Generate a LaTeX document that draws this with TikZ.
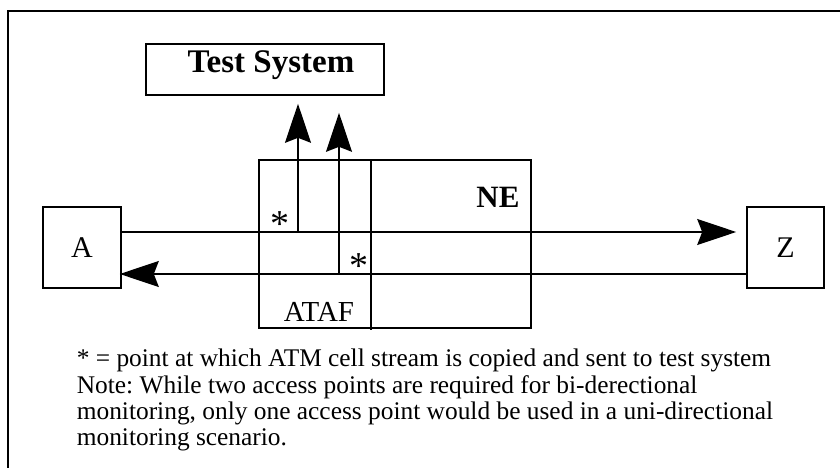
\documentclass[tikz,border=0pt]{standalone}
\usepackage{fontspec}
\setmainfont{Liberation Serif}
\frenchspacing
\usetikzlibrary{arrows.meta}
\begin{document}
\begin{tikzpicture}[x=1pt,y=-1pt,
  line width=1.6pt,
  box/.style={draw,line width=1.6pt},
  flow/.style={line width=1.6pt,-{Stealth[length=39pt,width=26pt,inset=5pt]}},
  lbl/.style={inner sep=0pt,font=\fontsize{29}{31}\selectfont},
  star/.style={inner sep=0pt,anchor=base,font=\fontsize{38}{40}\selectfont},
  note/.style={inner sep=0pt,anchor=base west,font=\fontsize{25.4}{27}\selectfont}]
\useasboundingbox (0,0) rectangle (840,468);
\fill[white] (0,0) rectangle (840,468);

% outer frame (open to the right and bottom)
\draw[line width=1.8pt] (8,468) -- (8,11) -- (840,11);

% test system
\node[box,minimum width=238pt,minimum height=51pt,inner sep=0pt] (ts) at (265,69.5) {};
\node[inner sep=0pt,anchor=base,font=\fontsize{33}{35}\selectfont\bfseries] (tst) at (271,73) {Test System};

% network element and its ATAF part
\node[box,minimum width=272pt,minimum height=168pt,inner sep=0pt] (ne) at (395,244) {};
\coordinate (div) at (371,160);
\draw (div) -- (div |- 0,330);
\node[inner sep=0pt,font=\fontsize{31}{33}\selectfont\bfseries] (nel) at (498,197) {NE};
\node[lbl] (ataf) at (319,312) {ATAF};

% end points
\node[box,minimum width=78pt,minimum height=81pt,inner sep=0pt] (a) at (82,247.5) {};
\node[lbl,font=\fontsize{30}{32}\selectfont] (al) at (a.center) {A};
\node[box,minimum width=77pt,minimum height=81pt,inner sep=0pt] (z) at (785.5,247.5) {};
\node[lbl,font=\fontsize{30}{32}\selectfont] (zl) at (z.center) {Z};

% cell streams
\coordinate (up) at (298,232);
\coordinate (dn) at (339,274);
\draw[flow,shorten >=10pt] (a.east |- up) -- (z.west |- up);
\draw[flow,shorten >=-2pt] (z.west |- dn) -- (a.east |- dn);

% copies towards the test system
\draw[flow,shorten >=8pt] (up) -- (up |- ts.south);
\draw[flow,shorten >=17pt] (dn) -- (dn |- ts.south);

% access points
\node[star] (s1) at (280,236) {*};
\node[star] (s2) at (359,278) {*};

% legend
\node[note] (n1) at (76,366) {* = point at which ATM cell stream is copied and sent to test system};
\node[note] (n2) at (76,393) {Note: While two access points are required for bi-derectional};
\node[note] (n3) at (76,419) {monitoring, only one access point would be used in a uni-directional};
\node[note] (n4) at (76,445) {monitoring scenario.};
\end{tikzpicture}
\end{document}
